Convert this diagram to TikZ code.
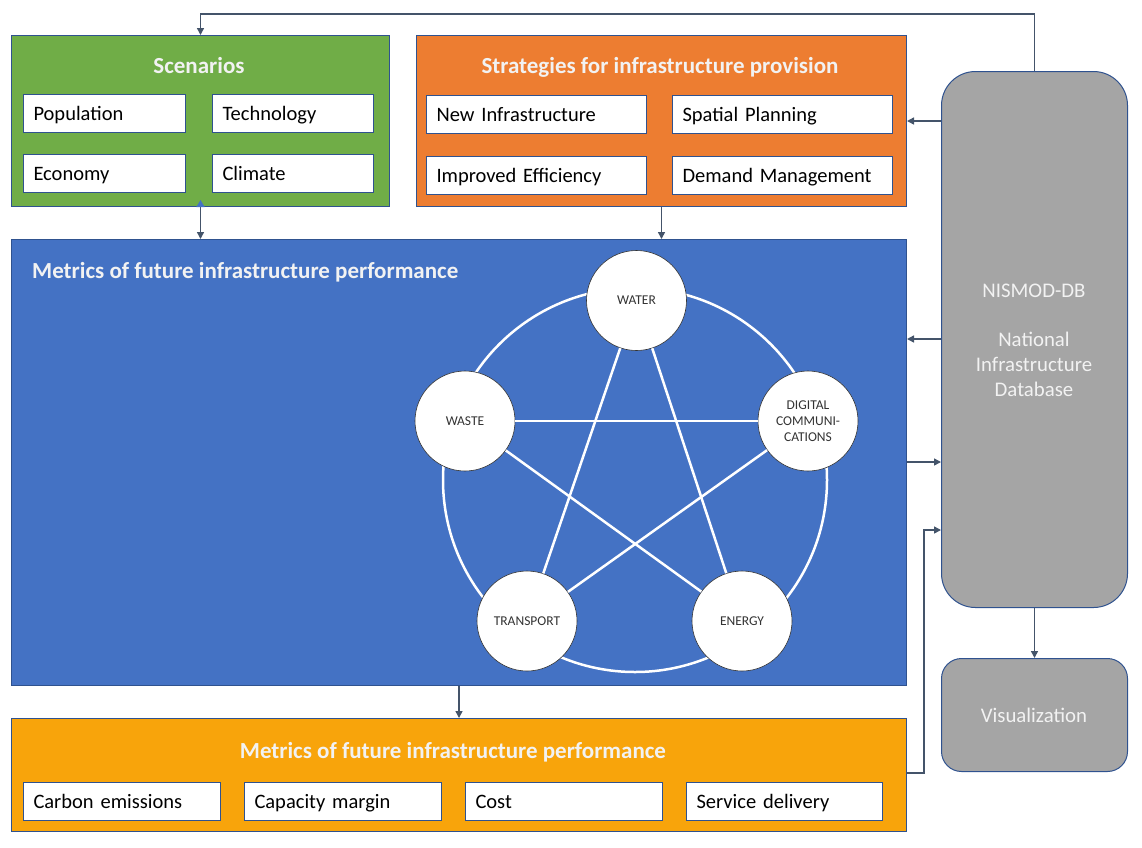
\documentclass[tikz,border=0pt]{standalone}
\usepackage{fontspec}
\setmainfont{Carlito}
\usetikzlibrary{arrows.meta}
\definecolor{cgreen}{HTML}{70AD47}
\definecolor{corange}{HTML}{ED7D31}
\definecolor{cblue}{HTML}{4472C4}
\definecolor{cgold}{HTML}{F8A40B}
\definecolor{cgray}{HTML}{A5A5A5}
\definecolor{cborder}{HTML}{2F528F}
\definecolor{carrow}{HTML}{44546A}
\definecolor{ctitle}{HTML}{F2F2F2}
\definecolor{clabel}{HTML}{333333}
\begin{document}
\begin{tikzpicture}[x=1pt,y=-1pt,
  panel/.style={draw=cborder, line width=1, anchor=north west, inner sep=0},
  item/.style={draw=cborder, fill=white, line width=1, anchor=north west, inner xsep=10, inner ysep=0,
    minimum height=38, text width=#1, text height=18, text depth=4, align=left,
    font=\fontsize{20.5}{24}\selectfont},
  ptitle/.style={text=ctitle, font=\bfseries\fontsize{23}{28}\selectfont, inner sep=0},
  sector/.style={circle, draw=clabel, line width=0.6, fill=white, minimum size=100, inner sep=0,
    align=center, text=clabel, font=\fontsize{13.5}{16}\selectfont},
  ring/.style={draw=white, line width=2.5},
  conn/.style={draw=carrow, line width=1.5},
  tip/.tip={Triangle[length=7,width=7]},
  dbbox/.style={draw=cborder, line width=1, fill=cgray, anchor=north west, inner sep=0},
  dbtext/.style={text=ctitle, align=center, font=\fontsize{20.8}{25}\selectfont, inner sep=0}
]
\useasboundingbox (0,0) rectangle (1142,847);

% Scenarios
\node[panel, fill=cgreen, minimum width=378, minimum height=171] (scen) at (11,35) {};
\node[ptitle] (scent) at (199,66) {Scenarios};
\node[item=142] (pop) at (23,94) {Population};
\node[item=141] (tech) at (212,94) {Technology};
\node[item=142] (econ) at (23,154) {Economy};
\node[item=141] (clim) at (212,154) {Climate};

% Strategies
\node[panel, fill=corange, minimum width=490, minimum height=171] (strat) at (416,35) {};
\node[ptitle] (stratt) at (660,67) {Strategies for infrastructure provision};
\node[item=200] (newi) at (426,95) {New Infrastructure};
\node[item=200] (spat) at (672,95) {Spatial Planning};
\node[item=200] (impr) at (426,156) {Improved Efficiency};
\node[item=200] (dem) at (672,156) {Demand Management};

% Metrics (blue)
\node[panel, fill=cblue, minimum width=895, minimum height=446] (metrics) at (11,239) {};
\node[ptitle, anchor=west] (metricst) at (32,272) {Metrics of future infrastructure performance};

% Sectors
\draw[ring] (635,480) circle (192);
\node[sector] (water) at (636.5,300.5) {WATER};
\node[sector] (waste) at (465,421) {WASTE};
\node[sector] (digital) at (808,421) {DIGITAL\\COMMUNI-\\CATIONS};
\node[sector] (transport) at (527,621) {TRANSPORT};
\node[sector] (energy) at (742,621) {ENERGY};
\draw[ring] (water) -- (transport);
\draw[ring] (water) -- (energy);
\draw[ring] (waste) -- (digital);
\draw[ring] (waste) -- (energy);
\draw[ring] (digital) -- (transport);

% Bottom metrics (gold)
\node[panel, fill=cgold, minimum width=895, minimum height=113] (outm) at (11,718) {};
\node[ptitle] (outmt) at (453,752) {Metrics of future infrastructure performance};
\node[item=177] (carb) at (23,782) {Carbon emissions};
\node[item=177] (capm) at (244,782) {Capacity margin};
\node[item=177] (cost) at (465,782) {Cost};
\node[item=176] (serv) at (686,782) {Service delivery};

% NISMOD-DB
\node[dbbox, rounded corners=34, minimum width=186, minimum height=536] (nismod) at (941,71) {};
\node[dbtext] (nismodt) at (1034,340)
  {NISMOD-DB\\[24pt]National\\Infrastructure\\Database};
\node[dbbox, rounded corners=20, minimum width=186, minimum height=113] (vis) at (941,658) {};
\node[dbtext] (vist) at (1034,715) {Visualization};

% Connectors
\draw[conn, -tip] (nismod.north) -- ++(0,-57) -| (scen.north);
\draw[conn, {Triangle[length=7,width=8,color=cblue]}-tip] ([yshift=7pt]scen.south) -- (metrics.north -| scen.south);
\draw[conn, -tip] (strat.south) -- (metrics.north -| strat.south);
\draw[conn, -tip] (nismod.west |- 0,121) -- (strat.east |- 0,121);
\draw[conn, -tip] (nismod.west |- 0,339) -- (metrics.east |- 0,339);
\draw[conn, -tip] (metrics.east |- 0,462) -- (nismod.west |- 0,462);
\draw[conn, -tip] (outm.east |- 0,773) -- (924,773) -- (924,530) -- (nismod.west |- 0,530);
\draw[conn, -tip] (nismod.south) -- (vis.north);
\draw[conn, -tip] (metrics.south -| 459,0) -- (outm.north -| 459,0);
\end{tikzpicture}
\end{document}
